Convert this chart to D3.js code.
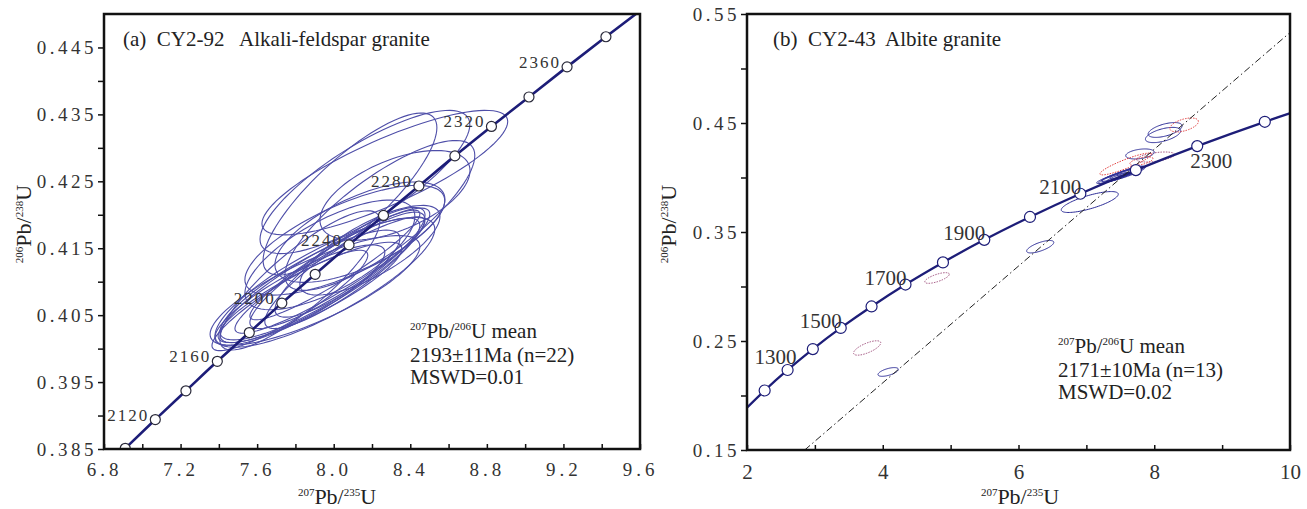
<!DOCTYPE html>
<html>
<head>
<meta charset="utf-8">
<script src="https://cdn.jsdelivr.net/npm/d3@7"></script>
<style>
  body { margin: 0; background: #fff; }
  text { font-family: "Liberation Serif", "Times New Roman", serif; fill: #222; }
</style>
</head>
<body>
<svg id="chart" width="1307" height="509"></svg>
<script>
// ---- panel (a) CY2-92 ----
const aXMajor = [6.8, 7.2, 7.6, 8.0, 8.4, 8.8, 9.2, 9.6];
const aXMinor = [7.0, 7.4, 7.8, 8.2, 8.6, 9.0, 9.4];
const aYMajor = [0.385, 0.395, 0.405, 0.415, 0.425, 0.435, 0.445];
const aYMinor = [0.390, 0.400, 0.410, 0.420, 0.430, 0.440];

// concordia points (age Ma, 207/235, 206/238)
const aConcAge = [2080, 2100, 2120, 2140, 2160, 2180, 2200, 2220, 2240, 2260, 2280, 2300, 2320, 2340, 2360, 2380, 2400];
const aConcX = [6.756, 6.911, 7.068, 7.228, 7.392, 7.559, 7.729, 7.903, 8.080, 8.260, 8.445, 8.633, 8.824, 9.020, 9.219, 9.422, 9.629];
const aConcY = [0.3808, 0.3851, 0.3894, 0.3937, 0.3981, 0.4024, 0.4068, 0.4111, 0.4155, 0.4199, 0.4243, 0.4288, 0.4332, 0.4376, 0.4421, 0.4466, 0.4511];
const aMarkerAges = [2100, 2120, 2140, 2160, 2180, 2200, 2220, 2240, 2260, 2280, 2300, 2320, 2340, 2360, 2380];
const aLabelAges = [2120, 2160, 2200, 2240, 2280, 2320, 2360];

// analyses: [207/235, 206/238, sigma x, sigma y, rho]
const aSpots = [
  [8.085, 0.4231, 0.454, 0.0121, 0.82],
  [8.163, 0.4249, 0.548, 0.0107, 0.80],
  [8.267, 0.4263, 0.642, 0.0093, 0.82],
  [8.320, 0.4229, 0.392, 0.0067, 0.55],
  [8.241, 0.4199, 0.496, 0.0112, 0.80],
  [8.058, 0.4162, 0.522, 0.0082, 0.72],
  [8.137, 0.4174, 0.444, 0.0075, 0.65],
  [7.980, 0.4140, 0.444, 0.0082, 0.70],
  [7.928, 0.4102, 0.522, 0.0093, 0.88],
  [7.980, 0.4110, 0.496, 0.0087, 0.92],
  [7.876, 0.4095, 0.470, 0.0082, 0.85],
  [8.032, 0.4120, 0.470, 0.0090, 0.90],
  [7.823, 0.4080, 0.444, 0.0075, 0.85],
  [7.902, 0.4087, 0.548, 0.0082, 0.80],
  [8.058, 0.4117, 0.418, 0.0087, 0.88],
  [7.954, 0.4099, 0.574, 0.0097, 0.82],
  [7.771, 0.4072, 0.407, 0.0075, 0.90],
  [8.006, 0.4125, 0.444, 0.0082, 0.93],
  [7.876, 0.4084, 0.480, 0.0075, 0.87],
  [8.085, 0.4129, 0.392, 0.0082, 0.86],
  [7.823, 0.4102, 0.418, 0.0104, 0.85],
  [8.189, 0.4147, 0.366, 0.0067, 0.75]
];

// ---- panel (b) CY2-43 ----
const bXMajor = [2, 4, 6, 8, 10];
const bXMinor = [3, 5, 7, 9];
const bYMajor = [0.15, 0.25, 0.35, 0.45, 0.55];
const bYMinor = [0.20, 0.30, 0.40, 0.50];

const bConcAge = [1100, 1200, 1300, 1400, 1500, 1600, 1700, 1800, 1900, 2000, 2100, 2200, 2300, 2400, 2500];
const bConcX = [1.955, 2.260, 2.598, 2.970, 3.381, 3.835, 4.335, 4.887, 5.496, 6.169, 6.911, 7.729, 8.633, 9.629, 10.730];
const bConcY = [0.1861, 0.2046, 0.2234, 0.2426, 0.2620, 0.2817, 0.3018, 0.3221, 0.3428, 0.3638, 0.3851, 0.4068, 0.4288, 0.4511, 0.4738];
const bMarkerAges = [1200, 1300, 1400, 1500, 1600, 1700, 1800, 1900, 2000, 2100, 2200, 2300, 2400];
const bLabelAges = [1300, 1500, 1700, 1900, 2100, 2300];

// discordia end points
const bDiscX = [2.85, 10];
const bDiscY = [0.15, 0.533];

const bSpotsUsed = [
  [4.08, 0.2216, 0.15, 0.0040, 0.60],
  [6.32, 0.3365, 0.20, 0.0057, 0.70],
  [7.05, 0.3775, 0.42, 0.0096, 0.75],
  [8.13, 0.4390, 0.26, 0.0070, 0.55],
  [8.16, 0.4436, 0.25, 0.0068, 0.55],
  [7.79, 0.4216, 0.21, 0.0046, 0.35],
  [7.45, 0.4010, 0.30, 0.0065, 0.92],
  [7.50, 0.4025, 0.28, 0.0060, 0.93],
  [7.55, 0.4030, 0.32, 0.0070, 0.90],
  [7.40, 0.3995, 0.22, 0.0050, 0.90],
  [7.60, 0.4045, 0.25, 0.0055, 0.88],
  [7.48, 0.4005, 0.18, 0.0042, 0.90],
  [7.65, 0.4060, 0.20, 0.0045, 0.85]
];
const bSpotsRed = [
  [8.44, 0.4482, 0.21, 0.0064, 0.50],
  [7.58, 0.4124, 0.38, 0.0100, 0.90],
  [7.81, 0.4150, 0.17, 0.0040, 0.60]
];
const bSpotsPurple = [
  [3.77, 0.2436, 0.20, 0.0066, 0.70],
  [4.80, 0.3078, 0.18, 0.0049, 0.70],
  [8.02, 0.4188, 0.28, 0.0046, 0.50]
];

const svg = d3.select("#chart");

function ellipsePath(e, x, y) {
  const pts = d3.range(0, 361, 4).map(a => {
    const t = a * Math.PI / 180;
    return [x(e[0] + e[2] * Math.cos(t)),
            y(e[1] + e[3] * (e[4] * Math.cos(t) + Math.sqrt(1 - e[4] * e[4]) * Math.sin(t)))];
  });
  return d3.line()(pts) + "Z";
}

// text with isotope superscripts, parts: [string, isSup]
function isoText(g, parts, big, small) {
  const t = g.append("text").attr("font-size", big);
  let up = false;
  parts.forEach(([s, sup]) => {
    const ts = t.append("tspan").text(s);
    if (sup) { ts.attr("font-size", small); if (!up) ts.attr("dy", -big * 0.38); up = true; }
    else { if (up) ts.attr("dy", big * 0.38); up = false; }
  });
  return t;
}

function drawPanel(cfg) {
  const g = svg.append("g");
  const x = d3.scaleLinear().domain(cfg.xDomain).range(cfg.xRange);
  const y = d3.scaleLinear().domain(cfg.yDomain).range(cfg.yRange);

  g.append("clipPath").attr("id", cfg.id + "clip")
    .append("rect")
    .attr("x", cfg.xRange[0]).attr("y", cfg.yRange[1])
    .attr("width", cfg.xRange[1] - cfg.xRange[0])
    .attr("height", cfg.yRange[0] - cfg.yRange[1]);

  const plot = g.append("g").attr("clip-path", `url(#${cfg.id}clip)`);

  cfg.spotGroups.forEach(sg => {
    plot.append("g").selectAll("path")
      .data(sg.data)
      .join("path")
      .attr("d", d => ellipsePath(d, x, y))
      .attr("fill", "none")
      .attr("stroke", sg.color)
      .attr("stroke-width", sg.width)
      .attr("stroke-dasharray", sg.dash || null);
  });

  const conc = cfg.concAge.map((a, i) => ({age: a, x: cfg.concX[i], y: cfg.concY[i]}));
  plot.append("path")
    .datum(conc)
    .attr("d", d3.line().x(d => x(d.x)).y(d => y(d.y)).curve(d3.curveCatmullRom))
    .attr("fill", "none")
    .attr("stroke", "#1d1d78")
    .attr("stroke-width", cfg.concWidth);

  if (cfg.discX) {
    plot.append("line")
      .attr("x1", x(cfg.discX[0])).attr("y1", y(cfg.discY[0]))
      .attr("x2", x(cfg.discX[1])).attr("y2", y(cfg.discY[1]))
      .attr("stroke", "#222")
      .attr("stroke-width", 1)
      .attr("stroke-dasharray", "7,3,1.5,3");
  }

  const markers = conc.filter(d => cfg.markerAges.includes(d.age));
  plot.append("g").selectAll("circle")
    .data(markers)
    .join("circle")
    .attr("cx", d => x(d.x))
    .attr("cy", d => y(d.y))
    .attr("r", cfg.markerR)
    .attr("fill", "#fff")
    .attr("stroke", cfg.markerStroke)
    .attr("stroke-width", 1.2);

  g.append("g").selectAll("text")
    .data(conc.filter(d => cfg.labelAges.includes(d.age)))
    .join("text")
    .attr("x", d => x(d.x) + cfg.labelOffset(d)[0])
    .attr("y", d => y(d.y) + cfg.labelOffset(d)[1])
    .attr("text-anchor", d => cfg.labelOffset(d)[2])
    .attr("font-family", cfg.labelFont)
    .attr("font-size", cfg.labelSize)
    .style("letter-spacing", cfg.labelSpacing)
    .style("fill", "#333")
    .text(d => d.age);

  // axes
  const xAxis = d3.axisBottom(x)
    .tickValues(cfg.xMajor.concat(cfg.xMinor))
    .tickSize(-5).tickSizeOuter(0).tickPadding(14)
    .tickFormat(d => cfg.xMajor.includes(d) ? cfg.xFmt(d) : "");
  const gx = g.append("g").attr("transform", `translate(0,${cfg.yRange[0]})`).call(xAxis);
  gx.select(".domain").remove();
  gx.selectAll(".tick line").attr("stroke", "#111").attr("stroke-width", 1.5);
  gx.selectAll(".tick text")
    .attr("font-family", null)
    .attr("font-size", cfg.xTickSize)
    .style("letter-spacing", cfg.xTickSpacing)
    .style("fill", "#333");

  const yAxis = d3.axisLeft(y)
    .tickValues(cfg.yMajor.concat(cfg.yMinor))
    .tickSize(6).tickSizeOuter(0).tickPadding(1)
    .tickFormat(d => cfg.yMajor.includes(d) ? cfg.yFmt(d) : "");
  const gy = g.append("g").attr("transform", `translate(${cfg.xRange[0]},0)`).call(yAxis);
  gy.select(".domain").remove();
  gy.selectAll(".tick line").attr("stroke", "#111").attr("stroke-width", 1.5);
  gy.selectAll(".tick text")
    .attr("font-family", null)
    .attr("font-size", 19)
    .style("letter-spacing", "3.5px")
    .style("fill", "#333");

  g.append("rect")
    .attr("x", cfg.xRange[0]).attr("y", cfg.yRange[1])
    .attr("width", cfg.xRange[1] - cfg.xRange[0])
    .attr("height", cfg.yRange[0] - cfg.yRange[1])
    .attr("fill", "none")
    .attr("stroke", "#111")
    .attr("stroke-width", 2.5);

  // axis titles
  isoText(g, [["207", true], ["Pb/", false], ["235", true], ["U", false]], 22, 11)
    .attr("x", cfg.xTitleX).attr("y", 504).attr("text-anchor", "middle");
  isoText(g, [["206", true], ["Pb/", false], ["238", true], ["U", false]], 22, 11)
    .attr("text-anchor", "middle")
    .attr("transform", `translate(${cfg.yTitleX},224) rotate(-90)`);

  g.append("text")
    .attr("x", cfg.title[0]).attr("y", 46)
    .attr("font-size", 21)
    .style("white-space", "pre")
    .text(cfg.title[1]);

  const nx = cfg.note[0], ny = cfg.note[1];
  isoText(g, [["207", true], ["Pb/", false], ["206", true], ["U mean", false]], 21, 11)
    .attr("x", nx).attr("y", ny);
  g.append("text").attr("x", nx).attr("y", ny + 24).attr("font-size", 21).text(cfg.note[2]);
  g.append("text").attr("x", nx).attr("y", ny + 46).attr("font-size", 21).text(cfg.note[3]);
}

drawPanel({
  id: "a",
  xDomain: [6.8, 9.6], xRange: [104, 640],
  yDomain: [0.385, 0.45], yRange: [449, 14],
  xMajor: aXMajor, xMinor: aXMinor, yMajor: aYMajor, yMinor: aYMinor,
  xFmt: d3.format(".1f"), yFmt: d3.format(".3f"),
  xTickSize: 19, xTickSpacing: "4px",
  concAge: aConcAge, concX: aConcX, concY: aConcY, concWidth: 2.6,
  markerAges: aMarkerAges, labelAges: aLabelAges,
  markerR: 5, markerStroke: "#2a2a3a",
  labelFont: "Liberation Serif", labelSize: 17, labelSpacing: "2px",
  labelOffset: d => [-6, 1, "end"],
  spotGroups: [{data: aSpots, color: "#4e4ea8", width: 1.1}],
  xTitleX: 337, yTitleX: 31,
  title: [123, "(a)  CY2-92   Alkali-feldspar granite"],
  note: [410, 338, "2193±11Ma (n=22)", "MSWD=0.01"]
});

drawPanel({
  id: "b",
  xDomain: [2, 10], xRange: [747, 1290],
  yDomain: [0.15, 0.55], yRange: [450, 14],
  xMajor: bXMajor, xMinor: bXMinor, yMajor: bYMajor, yMinor: bYMinor,
  xFmt: d3.format("d"), yFmt: d3.format(".2f"),
  xTickSize: 21, xTickSpacing: "0px",
  concAge: bConcAge, concX: bConcX, concY: bConcY, concWidth: 2.3,
  discX: bDiscX, discY: bDiscY,
  markerAges: bMarkerAges, labelAges: bLabelAges,
  markerR: 5.5, markerStroke: "#1d1d78",
  labelFont: "Liberation Sans", labelSize: 21, labelSpacing: "0px",
  labelOffset: d => d.age === 2300 ? [-7, 22, "start"] : d.age === 1300 ? [9, -6, "end"] : [1, 0, "end"],
  spotGroups: [
    {data: bSpotsPurple, color: "#a0507e", width: 1, dash: "1.5,1.2"},
    {data: bSpotsUsed, color: "#2e2e98", width: 1},
    {data: bSpotsRed, color: "#e23a3a", width: 1, dash: "1.5,1.2"}
  ],
  xTitleX: 1020, yTitleX: 676,
  title: [773, "(b)  CY2-43  Albite granite"],
  note: [1058, 353, "2171±10Ma (n=13)", "MSWD=0.02"]
});
</script>
</body>
</html>
